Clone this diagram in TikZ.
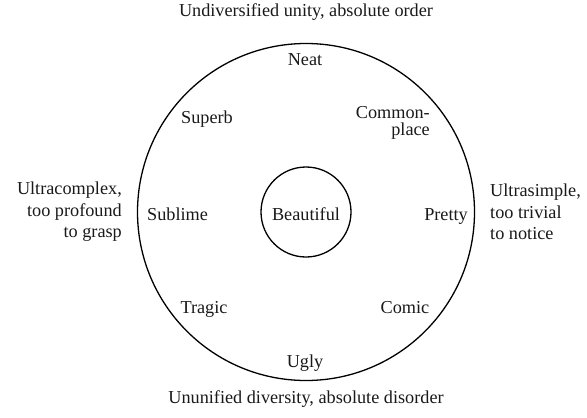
\documentclass[tikz,border=0pt]{standalone}
\usepackage{fontspec}
\setmainfont{Liberation Serif}
\begin{document}
\begin{tikzpicture}[x=1bp,y=1bp,
    lbl/.style={inner sep=0pt,font=\fontsize{18.3}{21.5}\selectfont,text=black!90},
    ring/.style={circle,draw,line width=1.3pt,inner sep=0pt}]
    \useasboundingbox (0,0) rectangle (587,417);
    % circles
    \node[ring,minimum size=337bp] (outer) at (306,205) {};
    \node[ring,lbl,minimum size=90bp] (beautiful) at (306,205) {};
    \node[lbl,anchor=base] at (beautiful.center |- 0,197) {Beautiful};
    % labels inside
    \node[lbl,anchor=base] (neat) at (305,352) {Neat};
    \node[lbl,anchor=base] (superb) at (207,294) {Superb};
    \node[lbl,anchor=east,align=right,font=\fontsize{18.3}{17.5}\selectfont] (commonplace) at (430,294) {Common-\\place};
    \node[lbl,anchor=base west] (sublime) at (147,197) {Sublime};
    \node[lbl,anchor=base east] (pretty) at (468,197) {Pretty};
    \node[lbl,anchor=base] (tragic) at (204,104) {Tragic};
    \node[lbl,anchor=base] (comic) at (405,104) {Comic};
    \node[lbl,anchor=base] (ugly) at (305,50) {Ugly};
    % labels outside
    \node[lbl,anchor=base] (order) at (306,400) {Undiversified unity, absolute order};
    \node[lbl,anchor=base] (disorder) at (306,14) {Ununified diversity, absolute disorder};
    \node[lbl,anchor=east,align=right] (complex) at (122,205) {Ultracomplex,\\too profound\\to grasp};
    \node[lbl,anchor=west,align=left] (simple) at (490,205) {Ultrasimple,\\too trivial\\to notice};
\end{tikzpicture}
\end{document}
